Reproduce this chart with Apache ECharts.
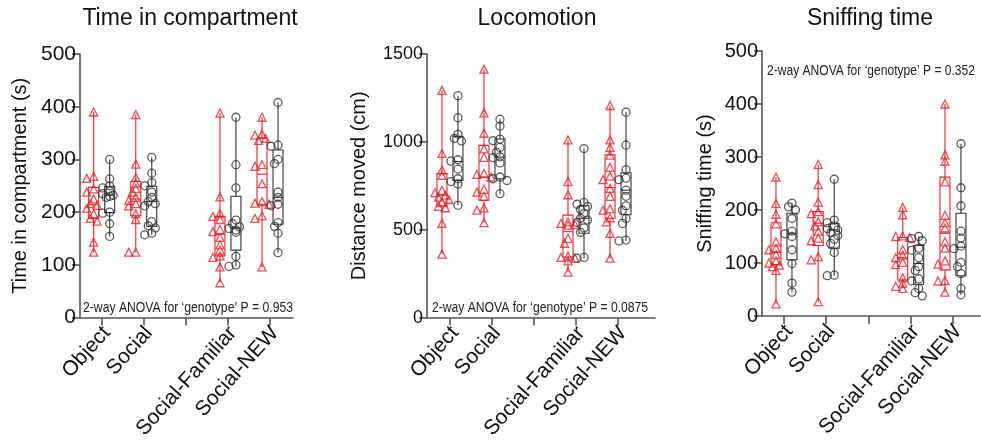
<!DOCTYPE html>
<html>
<head>
<meta charset="utf-8">
<script src="https://cdn.jsdelivr.net/npm/echarts@6/dist/echarts.min.js"></script>
<style>
  html, body { margin: 0; padding: 0; background: #fff; }
  #chart { width: 981px; height: 442px; }
</style>
</head>
<body>
<div id="chart"></div>
<script>
// categories on the x axis (third slot is an empty gap)
const categories = ['Object', 'Social', '', 'Social-Familiar', 'Social-NEW'];
const groupSlots = [0, 1, 3, 4];

// Time in compartment (s): red = triangles, black = circles
const compRed = [
  [390, 268, 264, 244, 238, 225, 216, 213, 207, 197, 188, 183, 143, 124],
  [385, 291, 266, 255, 245, 238, 228, 222, 216, 212, 197, 186, 124, 124],
  [388, 229, 197, 192, 186, 167, 163, 152, 138, 128, 117, 114, 96, 66],
  [380, 348, 346, 340, 336, 290, 287, 254, 220, 217, 215, 193, 188, 96]
];
const compBlack = [
  [300, 263, 250, 246, 240, 235, 232, 230, 228, 200, 198, 178, 154],
  [304, 274, 256, 250, 238, 228, 220, 216, 212, 182, 174, 170, 160, 157],
  [380, 290, 246, 185, 178, 172, 169, 166, 162, 116, 100, 97],
  [408, 327, 325, 300, 292, 238, 228, 215, 212, 180, 173, 160, 123]
];
// box stats: [min, Q1, median, Q3, max]
const compRedBox = [[124, 188, 214, 247, 390], [124, 193, 225, 258, 385], [66, 117, 158, 192, 388], [96, 215, 272, 340, 380]];
const compBlackBox = [[154, 199, 232, 249, 300], [157, 173, 220, 249, 304], [97, 128, 170, 230, 380], [123, 177, 228, 318, 408]];

// Locomotion: distance moved (cm)
const locRed = [
  [1293, 934, 840, 810, 724, 711, 697, 685, 672, 660, 633, 625, 536, 361],
  [1414, 1165, 1049, 960, 912, 820, 815, 800, 730, 714, 690, 624, 611, 540],
  [1011, 774, 699, 545, 536, 530, 526, 451, 423, 350, 342, 338, 323, 259],
  [1207, 1011, 968, 925, 855, 805, 785, 735, 690, 620, 611, 568, 545, 479, 338]
];
const locBlack = [
  [1263, 1137, 1043, 1019, 1005, 898, 890, 845, 790, 774, 760, 639],
  [1129, 1090, 1016, 1007, 968, 940, 915, 910, 880, 800, 790, 780, 705],
  [962, 655, 645, 632, 615, 592, 565, 555, 541, 510, 485, 342, 338],
  [1169, 981, 842, 793, 785, 725, 690, 636, 610, 564, 536, 441, 436]
];
const locRedBox = [[361, 631, 696, 819, 1293], [540, 668, 800, 980, 1414], [259, 345, 489, 583, 1011], [338, 565, 740, 926, 1207]];
const locBlackBox = [[639, 781, 888, 1031, 1263], [705, 790, 913, 1016, 1129], [338, 480, 565, 636, 962], [436, 585, 725, 824, 1169]];

// Sniffing time (s)
const sniffRed = [
  [262, 212, 192, 174, 140, 128, 125, 116, 104, 100, 96, 93, 86, 23],
  [286, 248, 215, 197, 193, 178, 170, 160, 147, 142, 112, 106, 27],
  [205, 191, 151, 150, 148, 125, 115, 110, 101, 97, 72, 62, 56, 52],
  [400, 304, 292, 253, 190, 176, 166, 140, 128, 104, 98, 67, 66, 45]
];
const sniffBlack = [
  [213, 206, 200, 184, 160, 155, 150, 125, 99, 62, 45],
  [258, 181, 176, 170, 165, 162, 157, 152, 145, 137, 120, 77, 76],
  [150, 146, 142, 128, 124, 110, 93, 86, 70, 66, 52, 44, 38],
  [325, 242, 208, 160, 147, 132, 127, 101, 93, 80, 52, 40]
];
const sniffRedBox = [[23, 97, 120, 176, 262], [27, 133, 175, 197, 286], [52, 68, 110, 148, 205], [45, 87, 156, 262, 400]];
const sniffBlackBox = [[45, 106, 155, 194, 213], [76, 128, 162, 174, 258], [38, 60, 99, 133, 150], [40, 76, 130, 194, 325]];

const yTicks = [[0, 500, 100], [0, 1500, 500], [0, 500, 100]];
const titles = ['Time in compartment', 'Locomotion', 'Sniffing time'];
const yNames = ['Time in compartment (s)', 'Distance moved (cm)', 'Sniffing time (s)'];
const pValues = ['0.953', '0.0875', '0.352'];

const RED = '#e5262c';
const BLACK = '#333333';
const AXIS = '#555555';
const FONT = 'Liberation Sans, Arial, Helvetica, sans-serif';

// layout of each panel (pixels)
const panels = [
  { left: 80, top: 54, width: 213, height: 266, xMin: -0.515, xMax: 4.546, nameGap: 50, labelSize: 21, titleX: 190, annoX: 83, annoY: 308, annoW: 210 },
  { left: 427, top: 54, width: 228, height: 266, xMin: -0.546, xMax: 4.88, nameGap: 58, labelSize: 18, titleX: 537, annoX: 432, annoY: 308, annoW: 216 },
  { left: 762, top: 51, width: 218, height: 265, xMin: -0.52, xMax: 4.64, nameGap: 47, labelSize: 20, titleX: 870, annoX: 767, annoY: 71, annoW: 208 }
];
const dataSets = [
  [compRed, compBlack, compRedBox, compBlackBox],
  [locRed, locBlack, locRedBox, locBlackBox],
  [sniffRed, sniffBlack, sniffRedBox, sniffBlackBox]
];

const GROUP_PX = 8;   // red box left of tick, black box right of tick
const STEP = 3.5;     // horizontal spread step for overlapping points
const DIAM = 5;
const LABEL_SHIFT = 0.12; // rotated labels sit a little right of their tick

// simple beeswarm: spread points that would overlap
function swarm(values, pxPerUnit) {
  const order = values.map((v, i) => i).sort((a, b) => values[b] - values[a]);
  const placed = [];
  const dxs = new Array(values.length).fill(0);
  order.forEach(i => {
    const y = values[i] * pxPerUnit;
    for (const k of [0, -1, 1, -2, 2]) {
      const dx = k * STEP;
      if (placed.every(p => Math.hypot(p.dx - dx, p.y - y) >= DIAM)) {
        placed.push({ dx, y });
        dxs[i] = dx;
        break;
      }
    }
  });
  return dxs;
}

function renderBox(color) {
  return function (params, api) {
    const x = api.value(0);
    const pMin = api.coord([x, api.value(1)]);
    const pQ1 = api.coord([x, api.value(2)]);
    const pMed = api.coord([x, api.value(3)]);
    const pQ3 = api.coord([x, api.value(4)]);
    const pMax = api.coord([x, api.value(5)]);
    const hw = 5;
    const style = { stroke: color, lineWidth: 1.1, fill: 'none' };
    return {
      type: 'group',
      children: [
        { type: 'line', shape: { x1: pMax[0], y1: pMax[1], x2: pQ3[0], y2: pQ3[1] }, style },
        { type: 'line', shape: { x1: pQ1[0], y1: pQ1[1], x2: pMin[0], y2: pMin[1] }, style },
        { type: 'rect', shape: { x: pQ3[0] - hw, y: pQ3[1], width: hw * 2, height: pQ1[1] - pQ3[1] }, style },
        { type: 'line', shape: { x1: pMed[0] - hw, y1: pMed[1], x2: pMed[0] + hw, y2: pMed[1] }, style }
      ]
    };
  };
}

// condensed annotation text: squeeze to the width it has in the figure
const measureCtx = document.createElement('canvas').getContext('2d');
function annoScale(text, font, width) {
  measureCtx.font = font;
  return width / measureCtx.measureText(text).width;
}

const grid = [], xAxis = [], yAxis = [], series = [], graphic = [];

panels.forEach((p, pi) => {
  const [yMin, yMax, yInt] = yTicks[pi];
  const bandPx = p.width / (p.xMax - p.xMin);
  const pxPerUnit = p.height / (yMax - yMin);
  const [red, black, redBox, blackBox] = dataSets[pi];

  grid.push({ left: p.left, top: p.top, width: p.width, height: p.height });

  xAxis.push({
    type: 'value',
    gridIndex: pi,
    min: p.xMin,
    max: p.xMax,
    axisLine: { show: true, onZero: false, lineStyle: { color: AXIS, width: 1.6 } },
    splitLine: { show: false },
    axisTick: { show: true, customValues: [0, 1, 2, 3, 4], length: 8, lineStyle: { color: AXIS, width: 1.6 } },
    axisLabel: {
      customValues: [0, 1, 2, 3, 4].map(v => v + LABEL_SHIFT),
      formatter: v => categories[Math.round(v)],
      rotate: 48,
      margin: 12,
      fontSize: 21,
      fontFamily: FONT,
      color: '#111'
    }
  });

  yAxis.push({
    type: 'value',
    gridIndex: pi,
    min: yMin,
    max: yMax,
    interval: yInt,
    name: yNames[pi],
    nameLocation: 'middle',
    nameGap: p.nameGap,
    nameTextStyle: { fontSize: 20, fontFamily: FONT, color: '#111' },
    axisLine: { show: true, onZero: false, lineStyle: { color: AXIS, width: 1.6 } },
    axisTick: { show: true, length: 8, lineStyle: { color: AXIS, width: 1.6 } },
    splitLine: { show: false },
    axisLabel: { fontSize: p.labelSize, fontFamily: FONT, color: '#111', margin: 4, formatter: v => String(v) }
  });

  [[redBox, -1, RED], [blackBox, 1, BLACK]].forEach(([boxes, side, color]) => {
    series.push({
      type: 'custom',
      xAxisIndex: pi,
      yAxisIndex: pi,
      clip: false,
      renderItem: renderBox(color),
      encode: { x: 0, y: [1, 2, 3, 4, 5] },
      data: boxes.map((b, gi) => [groupSlots[gi] + side * GROUP_PX / bandPx].concat(b)),
      z: 2
    });
  });

  [[red, -1, RED, 'triangle', 8], [black, 1, BLACK, 'circle', 8]].forEach(([groups, side, color, symbol, size]) => {
    const pts = [];
    groups.forEach((vals, gi) => {
      const dxs = swarm(vals, pxPerUnit);
      vals.forEach((v, k) => {
        pts.push([groupSlots[gi] + (side * GROUP_PX + dxs[k]) / bandPx, v]);
      });
    });
    series.push({
      type: 'scatter',
      xAxisIndex: pi,
      yAxisIndex: pi,
      symbol: symbol,
      symbolSize: size,
      itemStyle: { color: 'rgba(255,255,255,0)', borderColor: color, borderWidth: 1.3 },
      data: pts,
      z: 3
    });
  });

  graphic.push({
    type: 'text',
    x: p.titleX,
    y: 19,
    style: { text: titles[pi], font: '23px ' + FONT, fill: '#111', textAlign: 'center', textVerticalAlign: 'middle' }
  });

  const annoText = '2-way ANOVA for \u2018genotype\u2019 P = ' + pValues[pi];
  const annoFont = '15.5px ' + FONT;
  graphic.push({
    type: 'text',
    x: p.annoX,
    y: p.annoY,
    scaleX: annoScale(annoText, annoFont, p.annoW),
    style: { text: annoText, font: annoFont, fill: '#222', textAlign: 'left', textVerticalAlign: 'middle' }
  });
});

const chart = echarts.init(document.getElementById('chart'));
chart.setOption({
  animation: false,
  backgroundColor: '#fff',
  grid: grid,
  xAxis: xAxis,
  yAxis: yAxis,
  series: series,
  graphic: graphic
});
</script>
</body>
</html>
